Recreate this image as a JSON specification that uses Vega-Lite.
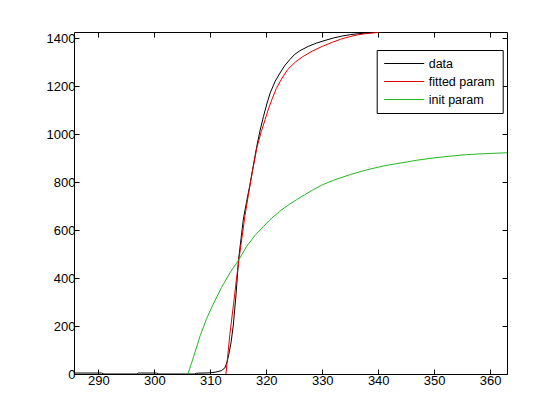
{
  "$schema": "https://vega.github.io/schema/vega-lite/v6.json",
  "width": 433,
  "height": 342,
  "autosize": "none",
  "padding": {"left": 74, "top": 32, "right": 53, "bottom": 46},
  "background": "white",
  "config": {
    "view": {"stroke": "black", "strokeWidth": 1},
    "axis": {
      "grid": false,
      "domain": false,
      "tickColor": "black",
      "tickSize": -5,
      "tickWidth": 1,
      "labelFont": "Liberation Sans",
      "labelFontSize": 13,
      "labelColor": "black",
      "title": null
    }
  },
  "datasets": {
    "curves": [
      {"series": "data", "x": 285.7, "y": 4},
      {"series": "data", "x": 290.6, "y": 4},
      {"series": "data", "x": 291.0, "y": 0},
      {"series": "data", "x": 296.9, "y": 0},
      {"series": "data", "x": 297.2, "y": 4},
      {"series": "data", "x": 300.4, "y": 4},
      {"series": "data", "x": 300.8, "y": 0},
      {"series": "data", "x": 307.2, "y": 0},
      {"series": "data", "x": 307.5, "y": 3},
      {"series": "data", "x": 310.0, "y": 5},
      {"series": "data", "x": 311.0, "y": 8},
      {"series": "data", "x": 312.0, "y": 14},
      {"series": "data", "x": 312.6, "y": 25},
      {"series": "data", "x": 313.0, "y": 50},
      {"series": "data", "x": 313.3, "y": 80},
      {"series": "data", "x": 313.7, "y": 130},
      {"series": "data", "x": 314.1, "y": 200},
      {"series": "data", "x": 314.6, "y": 330},
      {"series": "data", "x": 315.05, "y": 476},
      {"series": "data", "x": 315.5, "y": 565},
      {"series": "data", "x": 315.9, "y": 643},
      {"series": "data", "x": 316.5, "y": 720},
      {"series": "data", "x": 317.1, "y": 790},
      {"series": "data", "x": 317.7, "y": 870},
      {"series": "data", "x": 318.3, "y": 948},
      {"series": "data", "x": 318.9, "y": 1015},
      {"series": "data", "x": 319.5, "y": 1073},
      {"series": "data", "x": 320.1, "y": 1125},
      {"series": "data", "x": 320.7, "y": 1171},
      {"series": "data", "x": 321.6, "y": 1220},
      {"series": "data", "x": 322.45, "y": 1254},
      {"series": "data", "x": 323.3, "y": 1285},
      {"series": "data", "x": 324.2, "y": 1310},
      {"series": "data", "x": 325.0, "y": 1330},
      {"series": "data", "x": 326.0, "y": 1347},
      {"series": "data", "x": 327.5, "y": 1365},
      {"series": "data", "x": 329.0, "y": 1379},
      {"series": "data", "x": 330.5, "y": 1390},
      {"series": "data", "x": 332.0, "y": 1400},
      {"series": "data", "x": 333.5, "y": 1408},
      {"series": "data", "x": 335.0, "y": 1414},
      {"series": "data", "x": 336.5, "y": 1418},
      {"series": "data", "x": 338.0, "y": 1421},
      {"series": "data", "x": 340.0, "y": 1424},
      {"series": "fitted param", "x": 312.8, "y": 0},
      {"series": "fitted param", "x": 313.5, "y": 165},
      {"series": "fitted param", "x": 314.2, "y": 300},
      {"series": "fitted param", "x": 314.7, "y": 400},
      {"series": "fitted param", "x": 315.2, "y": 490},
      {"series": "fitted param", "x": 315.7, "y": 575},
      {"series": "fitted param", "x": 316.2, "y": 660},
      {"series": "fitted param", "x": 316.8, "y": 745},
      {"series": "fitted param", "x": 317.5, "y": 840},
      {"series": "fitted param", "x": 318.3, "y": 940},
      {"series": "fitted param", "x": 319.1, "y": 1010},
      {"series": "fitted param", "x": 319.8, "y": 1060},
      {"series": "fitted param", "x": 320.4, "y": 1105},
      {"series": "fitted param", "x": 321.0, "y": 1143},
      {"series": "fitted param", "x": 321.8, "y": 1190},
      {"series": "fitted param", "x": 322.75, "y": 1230},
      {"series": "fitted param", "x": 323.8, "y": 1268},
      {"series": "fitted param", "x": 325.2, "y": 1300},
      {"series": "fitted param", "x": 326.5, "y": 1322},
      {"series": "fitted param", "x": 328.2, "y": 1345},
      {"series": "fitted param", "x": 330.0, "y": 1365},
      {"series": "fitted param", "x": 331.8, "y": 1382},
      {"series": "fitted param", "x": 333.3, "y": 1395},
      {"series": "fitted param", "x": 334.8, "y": 1405},
      {"series": "fitted param", "x": 336.3, "y": 1413},
      {"series": "fitted param", "x": 337.7, "y": 1418},
      {"series": "fitted param", "x": 340.0, "y": 1423},
      {"series": "init param", "x": 306.0, "y": 0},
      {"series": "init param", "x": 307.0, "y": 70},
      {"series": "init param", "x": 308.2, "y": 160},
      {"series": "init param", "x": 309.3, "y": 228},
      {"series": "init param", "x": 310.5, "y": 290},
      {"series": "init param", "x": 312.0, "y": 360},
      {"series": "init param", "x": 313.5, "y": 421},
      {"series": "init param", "x": 315.1, "y": 476},
      {"series": "init param", "x": 316.5, "y": 532},
      {"series": "init param", "x": 318.0, "y": 578},
      {"series": "init param", "x": 319.5, "y": 615},
      {"series": "init param", "x": 321.0, "y": 650},
      {"series": "init param", "x": 322.4, "y": 678},
      {"series": "init param", "x": 324.0, "y": 705},
      {"series": "init param", "x": 325.4, "y": 726},
      {"series": "init param", "x": 326.8, "y": 746},
      {"series": "init param", "x": 328.4, "y": 768},
      {"series": "init param", "x": 330.0, "y": 788},
      {"series": "init param", "x": 332.0, "y": 807},
      {"series": "init param", "x": 335.0, "y": 831},
      {"series": "init param", "x": 338.0, "y": 851},
      {"series": "init param", "x": 341.0, "y": 867},
      {"series": "init param", "x": 343.9, "y": 879},
      {"series": "init param", "x": 347.0, "y": 891},
      {"series": "init param", "x": 349.8, "y": 900},
      {"series": "init param", "x": 353.0, "y": 908},
      {"series": "init param", "x": 355.8, "y": 914},
      {"series": "init param", "x": 359.0, "y": 918},
      {"series": "init param", "x": 363.0, "y": 922}
    ]
  },
  "data": {"name": "curves"},
  "layer": [
    {
      "mark": {"type": "line", "strokeWidth": 1, "clip": true},
      "encoding": {
        "x": {
          "field": "x", "type": "quantitative",
          "scale": {"domain": [285.66, 363], "nice": false, "zero": false},
          "axis": {"orient": "bottom", "values": [290, 300, 310, 320, 330, 340, 350, 360], "format": "d", "labelPadding": 5}
        },
        "y": {
          "field": "y", "type": "quantitative",
          "scale": {"domain": [0, 1425], "nice": false, "zero": true},
          "axis": {"orient": "left", "values": [0, 200, 400, 600, 800, 1000, 1200, 1400], "format": "d", "labelPadding": 4}
        },
        "color": {
          "field": "series", "type": "nominal",
          "scale": {"domain": ["data", "fitted param", "init param"], "range": ["#000000", "#e00000", "#22b822"]},
          "legend": {
            "title": null,
            "orient": "none",
            "legendX": 302.7,
            "legendY": 18,
            "direction": "vertical",
            "symbolType": "stroke",
            "symbolSize": 1600,
            "symbolStrokeWidth": 1,
            "clipHeight": 13,
            "rowPadding": 5,
            "padding": 7,
            "labelOffset": 4,
            "labelFont": "Liberation Sans",
            "labelFontSize": 12.5,
            "labelColor": "black",
            "strokeColor": "black",
            "fillColor": "white",
            "cornerRadius": 0
          }
        }
      }
    },
    {
      "mark": {"type": "line", "opacity": 0},
      "encoding": {
        "x": {
          "field": "x", "type": "quantitative",
          "scale": {"domain": [285.66, 363], "nice": false, "zero": false},
          "axis": {"orient": "top", "values": [290, 300, 310, 320, 330, 340, 350, 360], "labels": false}
        },
        "y": {
          "field": "y", "type": "quantitative",
          "scale": {"domain": [0, 1425], "nice": false, "zero": true},
          "axis": {"orient": "right", "values": [0, 200, 400, 600, 800, 1000, 1200, 1400], "labels": false}
        },
        "detail": {"field": "series", "type": "nominal"}
      }
    }
  ],
  "resolve": {"axis": {"x": "independent", "y": "independent"}}
}
